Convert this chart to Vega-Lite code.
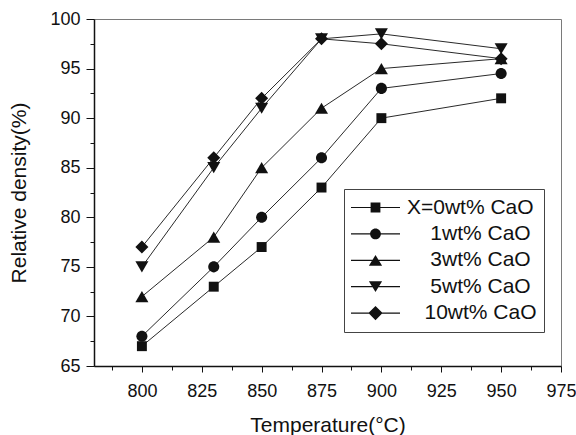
{
  "$schema": "https://vega.github.io/schema/vega-lite/v6.json",
  "width": 467,
  "height": 347,
  "autosize": {"type": "none"},
  "padding": {"left": 94, "top": 19, "right": 15, "bottom": 69},
  "background": "white",
  "config": {
    "font": "Liberation Sans",
    "view": {"stroke": "#7a7a7a", "strokeWidth": 1},
    "axis": {"grid": false, "labelFont": "Liberation Sans", "titleFont": "Liberation Sans", "labelColor": "#111", "titleColor": "#111", "tickColor": "#111", "domainColor": "#111", "titleFontWeight": "normal"}
  },
  "data": {
    "values": [
      {"T": 800, "d": 67, "s": "X=0wt% CaO"},
      {"T": 830, "d": 73, "s": "X=0wt% CaO"},
      {"T": 850, "d": 77, "s": "X=0wt% CaO"},
      {"T": 875, "d": 83, "s": "X=0wt% CaO"},
      {"T": 900, "d": 90, "s": "X=0wt% CaO"},
      {"T": 950, "d": 92, "s": "X=0wt% CaO"},
      {"T": 800, "d": 68, "s": "1wt% CaO"},
      {"T": 830, "d": 75, "s": "1wt% CaO"},
      {"T": 850, "d": 80, "s": "1wt% CaO"},
      {"T": 875, "d": 86, "s": "1wt% CaO"},
      {"T": 900, "d": 93, "s": "1wt% CaO"},
      {"T": 950, "d": 94.5, "s": "1wt% CaO"},
      {"T": 800, "d": 72, "s": "3wt% CaO"},
      {"T": 830, "d": 78, "s": "3wt% CaO"},
      {"T": 850, "d": 85, "s": "3wt% CaO"},
      {"T": 875, "d": 91, "s": "3wt% CaO"},
      {"T": 900, "d": 95, "s": "3wt% CaO"},
      {"T": 950, "d": 96, "s": "3wt% CaO"},
      {"T": 800, "d": 75, "s": "5wt% CaO"},
      {"T": 830, "d": 85, "s": "5wt% CaO"},
      {"T": 850, "d": 91, "s": "5wt% CaO"},
      {"T": 875, "d": 98, "s": "5wt% CaO"},
      {"T": 900, "d": 98.5, "s": "5wt% CaO"},
      {"T": 950, "d": 97, "s": "5wt% CaO"},
      {"T": 800, "d": 77, "s": "10wt% CaO"},
      {"T": 830, "d": 86, "s": "10wt% CaO"},
      {"T": 850, "d": 92, "s": "10wt% CaO"},
      {"T": 875, "d": 98, "s": "10wt% CaO"},
      {"T": 900, "d": 97.5, "s": "10wt% CaO"},
      {"T": 950, "d": 96, "s": "10wt% CaO"}
    ]
  },
  "resolve": {"axis": {"x": "independent", "y": "independent"}},
  "layer": [
    {
      "mark": {"type": "line", "color": "#2a2a2a", "strokeWidth": 1},
      "encoding": {
        "x": {"field": "T", "type": "quantitative", "scale": {"domain": [780, 975], "nice": false, "zero": false},
          "axis": {"orient": "bottom", "title": "Temperature(°C)", "values": [800, 825, 850, 875, 900, 925, 950, 975], "tickSize": 6, "tickWidth": 1, "domainWidth": 1.5, "labelFontSize": 18, "labelPadding": 10, "labelFlush": false, "labelOverlap": false, "titleFontSize": 21, "titlePadding": 14}},
        "y": {"field": "d", "type": "quantitative", "scale": {"domain": [65, 100], "nice": false, "zero": false},
          "axis": {"orient": "left", "title": "Relative density(%)", "values": [65, 70, 75, 80, 85, 90, 95, 100], "tickSize": 8, "tickWidth": 1, "domainWidth": 1.5, "labelFontSize": 18, "labelPadding": 6, "labelFlush": false, "labelOverlap": false, "titleFontSize": 21, "titlePadding": 20}},
        "detail": {"field": "s", "type": "nominal"}
      }
    },
    {
      "mark": {"type": "point", "filled": true, "opacity": 1, "size": 196},
      "encoding": {
        "x": {"field": "T", "type": "quantitative",
          "axis": {"orient": "bottom", "title": null, "labels": false, "domain": false, "values": [787.5, 812.5, 837.5, 862.5, 887.5, 912.5, 937.5, 962.5], "tickSize": 4, "tickWidth": 1}},
        "y": {"field": "d", "type": "quantitative",
          "axis": {"orient": "left", "title": null, "labels": false, "domain": false, "values": [67.5, 72.5, 77.5, 82.5, 87.5, 92.5, 97.5], "tickSize": 4, "tickWidth": 1}},
        "shape": {"field": "s", "type": "nominal",
          "sort": ["X=0wt% CaO", "1wt% CaO", "3wt% CaO", "5wt% CaO", "10wt% CaO"],
          "scale": {"range": ["M-0.71,-0.71H0.71V0.71H-0.71Z", "M-0.79,0A0.79,0.79 0 1,1 0.79,0A0.79,0.79 0 1,1 -0.79,0Z", "M0,-0.8L0.93,0.8L-0.93,0.8Z", "M0,0.8L-0.93,-0.8L0.93,-0.8Z", "M0,-0.93L0.93,0L0,0.93L-0.93,0Z"]},
          "legend": null},
        "color": {"field": "s", "type": "nominal",
          "scale": {"domain": ["X=0wt% CaO", "1wt% CaO", "3wt% CaO", "5wt% CaO", "10wt% CaO"], "range": ["#111111", "#111111", "#111111", "#111111", "#111111"]},
          "legend": {
            "title": null,
            "orient": "none",
            "legendX": 250,
            "legendY": 170,
            "direction": "vertical",
            "padding": 7,
            "strokeColor": "#444",
            "fillColor": "white",
            "symbolSize": 2401,
            "symbolStrokeWidth": 0,
            "symbolOpacity": 1,
            "clipHeight": 23,
            "rowPadding": 3.4,
            "labelFontSize": 21,
            "labelFont": "Liberation Sans",
            "labelColor": "#111",
            "labelOffset": 7,
            "labelLimit": 300,
            "labelExpr": "datum.label === 'X=0wt% CaO' ? datum.label : (datum.label === '10wt% CaO' ? '\u200b\u00a0\u00a0\u00a0' : '\u200b\u00a0\u00a0\u00a0\u00a0') + datum.label",
            "encode": {
              "symbols": {
                "update": {
                  "shape": {"signal": "datum.value === 'X=0wt% CaO' ? 'M-1,-0.025H-0.1V0.025H-1Z M0.1,-0.025H1V0.025H0.1Z M-0.2,-0.2H0.2V0.2H-0.2Z' : datum.value === '1wt% CaO' ? 'M-1,-0.025H-0.1V0.025H-1Z M0.1,-0.025H1V0.025H0.1Z M-0.22,0A0.22,0.22 0 1,1 0.22,0A0.22,0.22 0 1,1 -0.22,0Z' : datum.value === '3wt% CaO' ? 'M-1,-0.025H-0.1V0.025H-1Z M0.1,-0.025H1V0.025H0.1Z M0,-0.22L0.27,0.22L-0.27,0.22Z' : datum.value === '5wt% CaO' ? 'M-1,-0.025H-0.1V0.025H-1Z M0.1,-0.025H1V0.025H0.1Z M0,0.22L-0.27,-0.22L0.27,-0.22Z' : 'M-1,-0.025H-0.1V0.025H-1Z M0.1,-0.025H1V0.025H0.1Z M0,-0.29L0.29,0L0,0.29L-0.29,0Z'"},
                  "opacity": {"value": 1}
                }
              }
            }
          }}
      }
    }
  ]
}
